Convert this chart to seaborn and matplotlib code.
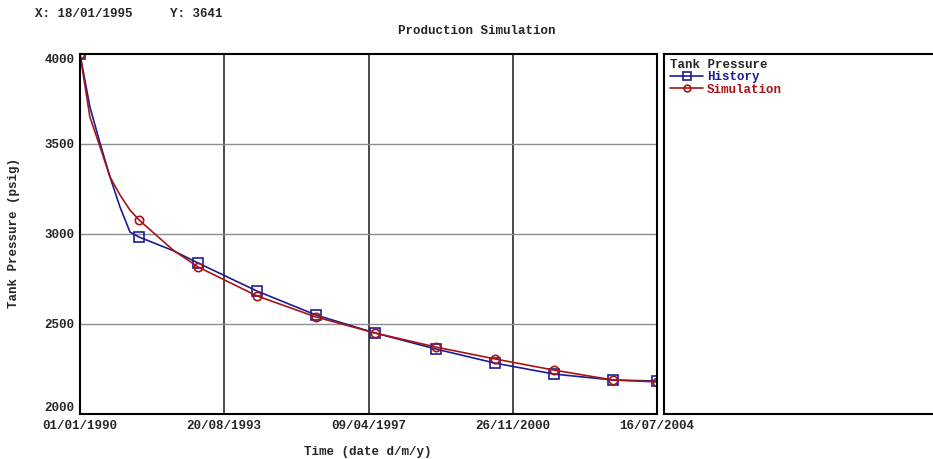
import pandas as pd
import matplotlib
matplotlib.use("Agg")
import matplotlib.pyplot as plt
import matplotlib.dates as mdates
import seaborn as sns

# data
dates = ["1990-01-01", "1990-04-02", "1990-07-04", "1990-10-04", "1991-01-04",
         "1991-04-06", "1991-06-28", "1992-05-06", "1992-12-22", "1994-06-18",
         "1995-12-13", "1997-06-08", "1998-12-20", "2000-06-15", "2001-12-10",
         "2003-06-06", "2004-07-16"]
history = [4000, 3706, 3506, 3317, 3150, 3011, 2983, 2908, 2839, 2683,
           2550, 2450, 2361, 2283, 2222, 2189, 2183]
simulation = [4000, 3650, 3485, 3317, 3217, 3133, 3078, 2911, 2817, 2656,
              2539, 2450, 2372, 2306, 2244, 2189, 2178]
marker_idx = [0, 6, 8, 9, 10, 11, 12, 13, 14, 15, 16]
x_ticks = ["1990-01-01", "1993-08-20", "1997-04-09", "2000-11-26", "2004-07-16"]
y_ticks = [2000, 2500, 3000, 3500, 4000]

df = pd.DataFrame({"date": pd.to_datetime(dates), "History": history, "Simulation": simulation})

sns.set_style("white")
plt.rcParams['font.family'] = ['Liberation Mono', 'DejaVu Sans Mono']
plt.rcParams['font.weight'] = 'bold'
fs = 9

fig = plt.figure(figsize=(9.33, 4.59), dpi=100)
ax = fig.add_axes([80/933, 1-414/459, 577/933, 360/459])
lax = fig.add_axes([664/933, 1-414/459, 300/933, 360/459])

blue = "#1c1c96"
red = "#a81414"
sns.lineplot(data=df, x="date", y="History", ax=ax, color=blue, lw=1.2,
             marker="s", markevery=marker_idx, ms=7.5, mfc="none", mec=blue, mew=1.2,
             label="History")
sns.lineplot(data=df, x="date", y="Simulation", ax=ax, color=red, lw=1.2,
             marker="o", markevery=marker_idx, ms=6, mfc="none", mec=red, mew=1.2,
             label="Simulation")

ax.set_xlim(pd.Timestamp(x_ticks[0]), pd.Timestamp(x_ticks[-1]))
ax.set_ylim(2000, 4000)
ax.set_xticks(pd.to_datetime(x_ticks))
ax.xaxis.set_major_formatter(mdates.DateFormatter("%d/%m/%Y"))
ax.set_yticks(y_ticks)
ax.tick_params(length=0, labelsize=fs, pad=4)
for t in ax.get_xticklabels() + ax.get_yticklabels():
    t.set_fontweight("bold")
ax.get_yticklabels()[0].set_va("bottom")
ax.get_yticklabels()[-1].set_va("top")

ax.grid(False)
for xt in pd.to_datetime(x_ticks)[1:-1]:
    ax.axvline(xt, color="#3a3a3a", lw=1.3, zorder=0)
for yt in y_ticks[1:-1]:
    ax.axhline(yt, color="#8c8c8c", lw=1.0, zorder=0)
for s in ax.spines.values():
    s.set_visible(True)
    s.set_color("black")
    s.set_linewidth(1.5)

ax.set_xlabel("Time (date d/m/y)", fontsize=fs, fontweight="bold")
ax.set_ylabel("Tank Pressure (psig)", fontsize=fs, fontweight="bold")
ax.xaxis.set_label_coords((368-80)/577, (414-452)/360)
ax.yaxis.set_label_coords((14-80)/577, (414-233)/360)
ax.xaxis.label.set_va("center")
ax.yaxis.label.set_va("center")

handles, labels = ax.get_legend_handles_labels()
ax.get_legend().remove()

lax.set_xticks([])
lax.set_yticks([])
for s in lax.spines.values():
    s.set_color("black")
    s.set_linewidth(1.5)
leg = lax.legend(handles, labels, title="Tank Pressure", loc="upper left",
                 bbox_to_anchor=(-0.012, 1.014), frameon=False, fontsize=fs,
                 title_fontsize=fs, labelcolor="linecolor", handlelength=2.6,
                 handletextpad=0.3, labelspacing=0.05, borderpad=0.3, markerscale=0.8)
leg._legend_box.align = "left"
leg._legend_box.sep = 0
leg.get_title().set_fontweight("bold")
for t in leg.get_texts():
    t.set_fontweight("bold")

fig.text(477/933, 1-31/459, "Production Simulation", ha="center", va="center",
         fontsize=fs, fontweight="bold")
fig.text(35/933, 1-14/459, "X: 18/01/1995     Y: 3641", ha="left", va="center",
         fontsize=fs, fontweight="bold")

fig.savefig("out.png", dpi=100)
